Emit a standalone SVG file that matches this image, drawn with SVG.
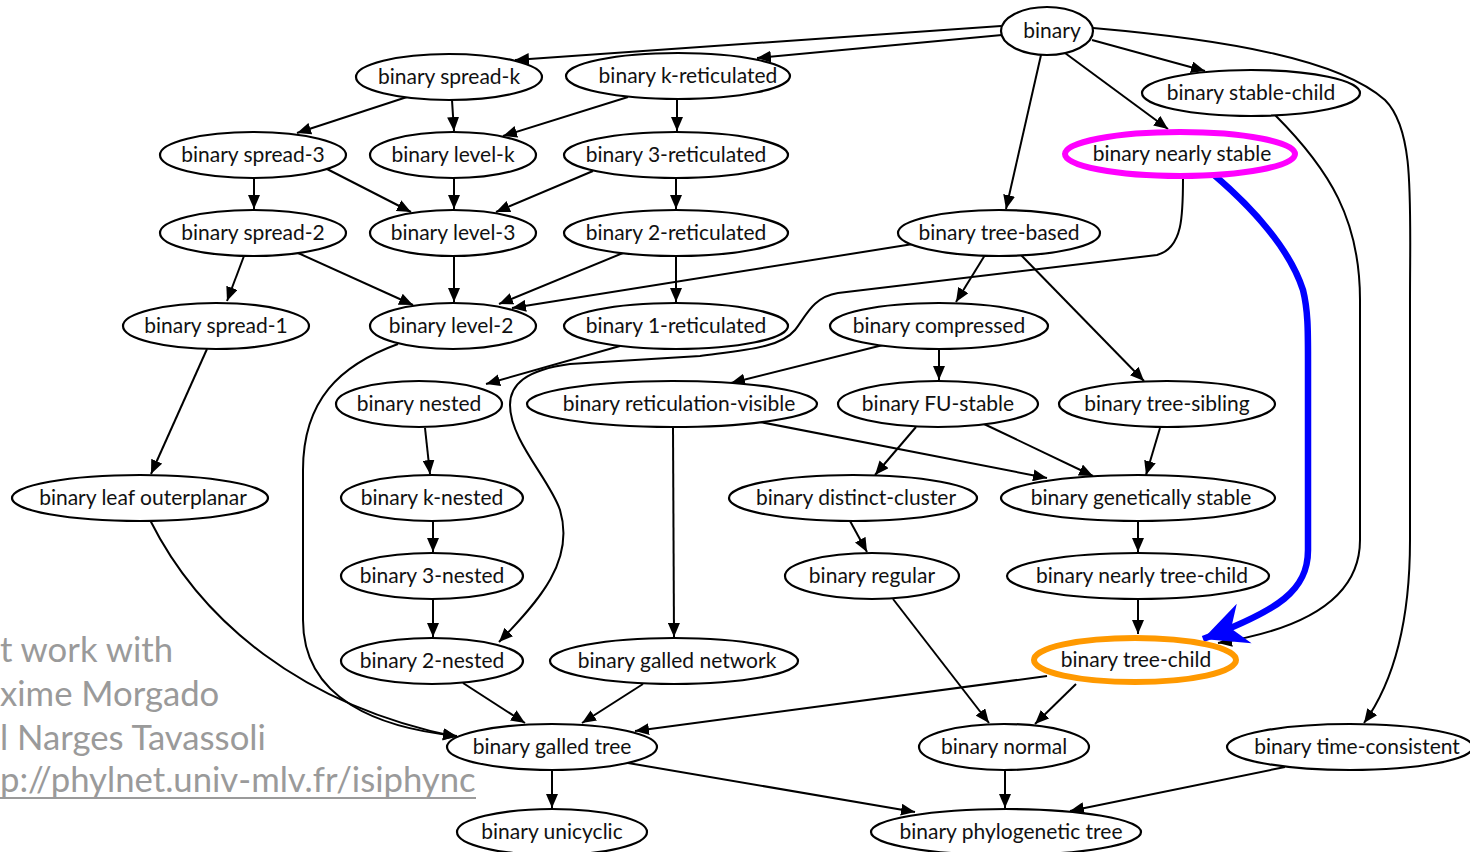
<svg xmlns="http://www.w3.org/2000/svg" width="1470" height="852" viewBox="0 0 1470 852">
  <style>
    .node ellipse { fill: #ffffff; stroke: #000000; stroke-width: 2.2; }
    .node text { font-family: Lato, "Liberation Sans", sans-serif; font-size: 21px; fill: #111111; text-anchor: middle; }
    .edges path { fill: none; stroke: #000000; stroke-width: 2; marker-end: url(#arrow); }
    .edges path.hl { stroke: #0000ff; stroke-width: 6.5; marker-end: url(#bigarrow); }
    .credit { font-family: Lato, "Liberation Sans", sans-serif; font-size: 34.7px; fill: #9a9a9a; }
    #n-nearly-stable ellipse { stroke: #ff00ff; stroke-width: 6; }
    #n-tree-child ellipse { stroke: #ff9900; stroke-width: 6; }
  </style>
  <defs>
    <marker id="arrow" markerUnits="userSpaceOnUse" markerWidth="16" markerHeight="12" refX="14" refY="6" orient="auto">
      <path d="M0,0 L14,6 L0,12 z" fill="#000000"/>
    </marker>
    <marker id="bigarrow" markerUnits="userSpaceOnUse" markerWidth="50" markerHeight="50" refX="44" refY="25" orient="auto">
      <path d="M0,4 L44,25 L0,46 L14,25 z" fill="#0000ff"/>
    </marker>
  </defs>

  <rect width="1470" height="852" fill="#ffffff"/>

  <!-- credits -->
  <g id="credits">
    <text class="credit" x="0" y="662">t work with</text>
    <text class="credit" x="0" y="706">xime Morgado</text>
    <text class="credit" x="0" y="750">l Narges Tavassoli</text>
    <text class="credit" x="0" y="792">p://phylnet.univ-mlv.fr/isiphync</text>
    <line x1="0" y1="798" x2="476" y2="798" stroke="#9a9a9a" stroke-width="2"/>
  </g>

  <!-- connectors -->
  <g id="edges" class="edges">
    <path d="M1001,26 L515,60"/>
    <path d="M1002,35 L757,58"/>
    <path d="M1092,40 L1205,71"/>
    <path d="M1065,53 L1168,129"/>
    <path d="M1041,55 L1006,209"/>
    <path d="M1093,28 C1230,40 1340,60 1385,100 C1415,130 1410,200 1410,300 L1410,540 C1410,620 1395,680 1364,723"/>
    <path d="M407,97 L297,133"/>
    <path d="M452,100 L454,131"/>
    <path d="M628,97 L503,136"/>
    <path d="M677,99 L677,131"/>
    <path d="M1275,115 C1330,170 1360,220 1360,300 L1360,540 C1360,600 1300,630 1218,643"/>
    <path d="M254,178 L254,209"/>
    <path d="M327,169 L411,212"/>
    <path d="M454,178 L454,209"/>
    <path d="M593,171 L496,212"/>
    <path d="M676,178 L676,209"/>
    <path d="M244,256 L227,301"/>
    <path d="M298,253 L413,305"/>
    <path d="M454,256 L454,302"/>
    <path d="M623,253 L499,304"/>
    <path d="M676,256 L676,302"/>
    <path d="M913,244 L512,308"/>
    <path d="M985,255 L956,302"/>
    <path d="M1021,255 L1144,381"/>
    <path d="M207,349 L151,474"/>
    <path d="M398,344 C340,365 303,400 303,470 L303,620 C303,700 380,728 457,736"/>
    <path d="M620,346 L486,384"/>
    <path d="M883,345 L731,383"/>
    <path d="M939,350 L939,380"/>
    <path d="M673,428 L674,637"/>
    <path d="M760,422 L1047,478"/>
    <path d="M916,427 L875,475"/>
    <path d="M984,424 L1093,476"/>
    <path d="M1160,428 L1146,475"/>
    <path d="M425,428 L430,474"/>
    <path d="M433,521 L433,552"/>
    <path d="M433,599 L433,637"/>
    <path d="M1183,178 C1183,215 1183,248 1157,255 L838,293 C812,297 805,318 795,330 C780,348 745,350 700,356 L570,364 C525,370 510,385 510,405 C510,440 550,480 560,510 C575,560 540,600 499,642"/>
    <path d="M150,520 C200,620 300,705 457,737"/>
    <path d="M850,521 L867,552"/>
    <path d="M1138,521 L1138,552"/>
    <path d="M1138,599 L1138,634"/>
    <path d="M893,599 L989,723"/>
    <path d="M1076,684 L1035,724"/>
    <path d="M1047,676 L635,731"/>
    <path d="M463,683 L525,723"/>
    <path d="M643,684 L582,723"/>
    <path d="M552,770 L552,808"/>
    <path d="M628,763 L915,812"/>
    <path d="M1005,770 L1005,808"/>
    <path d="M1285,767 L1070,811"/>
    <path class="hl" d="M1213,174 C1255,210 1290,250 1303,290 C1308,310 1308,330 1308,360 L1308,550 C1308,590 1280,610 1203,639"/>
  </g>

  <!-- nodes -->
  <g id="n-binary" class="node"><ellipse cx="1047" cy="31" rx="46" ry="24"/><text x="1052" y="38">binary</text></g>
  <g id="n-spread-k" class="node"><ellipse cx="449" cy="77" rx="93" ry="23"/><text x="449" y="84">binary spread-k</text></g>
  <g id="n-k-reticulated" class="node"><ellipse cx="678" cy="76" rx="112" ry="23"/><text x="688" y="83">binary k-reticulated</text></g>
  <g id="n-stable-child" class="node"><ellipse cx="1251" cy="93" rx="109" ry="23"/><text x="1251" y="100">binary stable-child</text></g>
  <g id="n-spread-3" class="node"><ellipse cx="253" cy="155" rx="93" ry="23"/><text x="253" y="162">binary spread-3</text></g>
  <g id="n-level-k" class="node"><ellipse cx="453" cy="155" rx="83" ry="23"/><text x="453" y="162">binary level-k</text></g>
  <g id="n-3-reticulated" class="node"><ellipse cx="676" cy="155" rx="112" ry="23"/><text x="676" y="162">binary 3-reticulated</text></g>
  <g id="n-nearly-stable" class="node"><ellipse cx="1180" cy="154" rx="115" ry="22"/><text x="1182" y="161">binary nearly stable</text></g>
  <g id="n-spread-2" class="node"><ellipse cx="253" cy="233" rx="93" ry="23"/><text x="253" y="240">binary spread-2</text></g>
  <g id="n-level-3" class="node"><ellipse cx="453" cy="233" rx="83" ry="23"/><text x="453" y="240">binary level-3</text></g>
  <g id="n-2-reticulated" class="node"><ellipse cx="676" cy="233" rx="112" ry="23"/><text x="676" y="240">binary 2-reticulated</text></g>
  <g id="n-tree-based" class="node"><ellipse cx="999" cy="233" rx="101" ry="23"/><text x="999" y="240">binary tree-based</text></g>
  <g id="n-spread-1" class="node"><ellipse cx="216" cy="326" rx="93" ry="23"/><text x="216" y="333">binary spread-1</text></g>
  <g id="n-level-2" class="node"><ellipse cx="453" cy="326" rx="83" ry="23"/><text x="451" y="333">binary level-2</text></g>
  <g id="n-1-reticulated" class="node"><ellipse cx="676" cy="326" rx="112" ry="23"/><text x="676" y="333">binary 1-reticulated</text></g>
  <g id="n-compressed" class="node"><ellipse cx="939" cy="326" rx="109" ry="23"/><text x="939" y="333">binary compressed</text></g>
  <g id="n-nested" class="node"><ellipse cx="419" cy="404" rx="83" ry="23"/><text x="419" y="411">binary nested</text></g>
  <g id="n-reticulation-visible" class="node"><ellipse cx="672" cy="404" rx="145" ry="23"/><text x="679" y="411">binary reticulation-visible</text></g>
  <g id="n-fu-stable" class="node"><ellipse cx="938" cy="404" rx="100" ry="23"/><text x="938" y="411">binary FU-stable</text></g>
  <g id="n-tree-sibling" class="node"><ellipse cx="1167" cy="404" rx="108" ry="23"/><text x="1167" y="411">binary tree-sibling</text></g>
  <g id="n-leaf-outerplanar" class="node"><ellipse cx="140" cy="498" rx="128" ry="23"/><text x="143" y="505">binary leaf outerplanar</text></g>
  <g id="n-k-nested" class="node"><ellipse cx="432" cy="498" rx="91" ry="23"/><text x="432" y="505">binary k-nested</text></g>
  <g id="n-distinct-cluster" class="node"><ellipse cx="853" cy="498" rx="124" ry="23"/><text x="856" y="505">binary distinct-cluster</text></g>
  <g id="n-genetically-stable" class="node"><ellipse cx="1138" cy="498" rx="137" ry="23"/><text x="1141" y="505">binary genetically stable</text></g>
  <g id="n-3-nested" class="node"><ellipse cx="432" cy="576" rx="91" ry="23"/><text x="432" y="583">binary 3-nested</text></g>
  <g id="n-regular" class="node"><ellipse cx="872" cy="576" rx="87" ry="23"/><text x="872" y="583">binary regular</text></g>
  <g id="n-nearly-tree-child" class="node"><ellipse cx="1138" cy="576" rx="131" ry="23"/><text x="1142" y="583">binary nearly tree-child</text></g>
  <g id="n-2-nested" class="node"><ellipse cx="432" cy="661" rx="91" ry="23"/><text x="432" y="668">binary 2-nested</text></g>
  <g id="n-galled-network" class="node"><ellipse cx="674" cy="661" rx="124" ry="23"/><text x="677" y="668">binary galled network</text></g>
  <g id="n-tree-child" class="node"><ellipse cx="1135" cy="660" rx="101" ry="22"/><text x="1136" y="667">binary tree-child</text></g>
  <g id="n-galled-tree" class="node"><ellipse cx="552" cy="747" rx="105" ry="23"/><text x="552" y="754">binary galled tree</text></g>
  <g id="n-normal" class="node"><ellipse cx="1004" cy="747" rx="85" ry="23"/><text x="1004" y="754">binary normal</text></g>
  <g id="n-time-consistent" class="node"><ellipse cx="1350" cy="747" rx="123" ry="23"/><text x="1357" y="754">binary time-consistent</text></g>
  <g id="n-unicyclic" class="node"><ellipse cx="552" cy="832" rx="95" ry="23"/><text x="552" y="839">binary unicyclic</text></g>
  <g id="n-phylogenetic-tree" class="node"><ellipse cx="1006" cy="832" rx="135" ry="23"/><text x="1011" y="839">binary phylogenetic tree</text></g>
</svg>
